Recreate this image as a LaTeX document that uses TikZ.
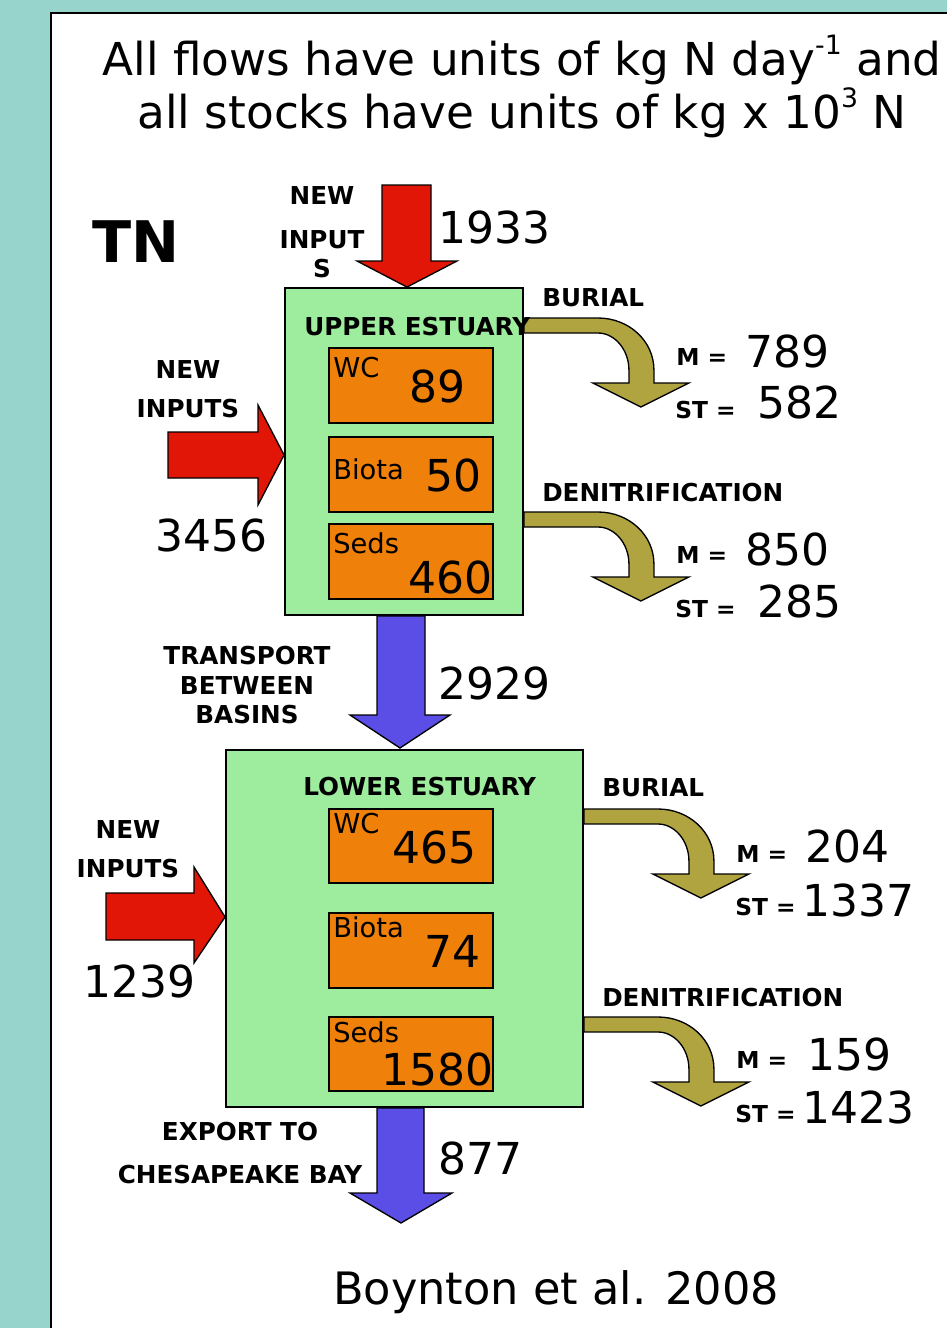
\documentclass[tikz,border=0pt]{standalone}
\usepackage{fontspec}
\setmainfont{DejaVu Sans}
\usetikzlibrary{fit,calc}
\definecolor{bgteal}{RGB}{150,212,204}
\definecolor{basingreen}{RGB}{158,236,158}
\definecolor{poolorange}{RGB}{239,128,10}
\definecolor{inred}{RGB}{225,22,6}
\definecolor{trblue}{RGB}{90,78,230}
\definecolor{outolive}{RGB}{175,164,64}
\newcommand\supr[1]{\raisebox{0.45em}{\fontsize{20}{20}\selectfont #1}}
\newcommand\bendarrow[1]{\draw[outflow, shift={#1}] (0,0) -- (74,0) .. controls (105,0) and (130,23) .. (130,52) -- (130,65) -- (165,65) -- (117,89) -- (69,65) -- (105,65) -- (105,52) .. controls (105,32) and (91,15) .. (74,15) -- (0,15) -- cycle;}
\begin{document}
\begin{tikzpicture}[x=0.75pt,y=-0.75pt,
  every node/.style={inner sep=0pt, text=black},
  lbl/.style={font=\fontsize{18.5}{20}\selectfont\bfseries, anchor=base},
  lblw/.style={lbl, anchor=base west},
  eq/.style={font=\fontsize{17.5}{19}\selectfont\bfseries, anchor=base west},
  num/.style={font=\fontsize{33}{36}\selectfont, anchor=base west},
  part/.style={font=\fontsize{20.5}{22}\selectfont, anchor=base west},
  basin/.style={draw=black, line width=1.4pt, fill=basingreen, inner sep=0pt},
  pool/.style={draw=black, line width=1.4pt, fill=poolorange, inner sep=0pt},
  inflow/.style={draw=black, line width=1pt, fill=inred, line join=miter},
  transflow/.style={draw=black, line width=1pt, fill=trblue, line join=miter},
  outflow/.style={draw=black, line width=1pt, fill=outolive, line join=miter}]
\useasboundingbox (0,0) rectangle (947,1328);
\fill[bgteal] (0,0) rectangle (947,1328);
\fill[white] (51,13) rectangle (947,1328);
\draw[line width=1.5pt] (51,1328) -- (51,13) -- (947,13);

% title
\node[font=\fontsize{34}{36}\selectfont, anchor=base] (t1) at (522,75) {All flows have units of kg N day\supr{-1} and};
\node[font=\fontsize{34}{36}\selectfont, anchor=base] (t2) at (522,128) {all stocks have units of kg x 10\supr{3} N};
\node[font=\fontsize{43}{46}\selectfont\bfseries, anchor=base west] (tn) at (92,262) {TN};

% basins
\node[basin, fit={(285,288) (523,615)}] (U) {};
\node[basin, fit={(226,750) (583,1107)}] (L) {};
\node[pool, fit={(329,348) (493,423)}] (Uwc) {};
\node[pool, fit={(329,437) (493,512)}] (Ubi) {};
\node[pool, fit={(329,524) (493,599)}] (Use) {};
\node[pool, fit={(329,809) (493,883)}] (Lwc) {};
\node[pool, fit={(329,913) (493,988)}] (Lbi) {};
\node[pool, fit={(329,1017) (493,1091)}] (Lse) {};

% inflows
\draw[inflow] (382,185) -- (431,185) -- (431,261) -- (457,261) -- (U.north -| 407,0) -- (357,261) -- (382,261) -- cycle;
\draw[inflow] (168,432) -- (258,432) -- (258,405) -- (U.west |- 0,455) -- (258,505) -- (258,478) -- (168,478) -- cycle;
\draw[inflow] (106,893) -- (194,893) -- (194,867) -- (L.west |- 0,917) -- (194,963) -- (194,940) -- (106,940) -- cycle;

% transport and export
\draw[transflow] (U.south -| 377,0) -- (U.south -| 425,0) -- (425,715) -- (450,715) -- (400,748) -- (350,715) -- (377,715) -- cycle;
\draw[transflow] (L.south -| 377,0) -- (L.south -| 424,0) -- (424,1193) -- (452,1193) -- (401,1223) -- (350,1193) -- (377,1193) -- cycle;

% burial / denitrification bent arrows
\bendarrow{(U.east |- 0,318)}
\bendarrow{(U.east |- 0,512)}
\bendarrow{(L.east |- 0,809)}
\bendarrow{(L.east |- 0,1017)}

% upper labels
\node[lbl] (ni1) at (322,204) {NEW};
\node[lbl] (ni2) at (322,248) {INPUT};
\node[lbl] (ni3) at (322,277) {S};
\node[num] (v1933) at (438,243) {1933};
\node[lblw] (ue) at (304,335) {UPPER ESTUARY};
\node[part] (uwcl) at (333,377) {WC};
\node[num] (uwcv) at (409,402) {89};
\node[part] (ubil) at (333,479) {Biota};
\node[num] (ubiv) at (425,491) {50};
\node[part] (usel) at (333,553) {Seds};
\node[num] (usev) at (408,593) {460};
\node[lbl] (uni1) at (188,378) {NEW};
\node[lbl] (uni2) at (188,417) {INPUTS};
\node[num] (v3456) at (155,551) {3456};
\node[lblw] (ub) at (542,306) {BURIAL};
\node[eq] (ubm) at (676,365) {M =};
\node[num] (ubmv) at (745,367) {789};
\node[eq] (ubs) at (675,418) {ST =};
\node[num] (ubsv) at (757,418) {582};
\node[lblw] (ud) at (542,501) {DENITRIFICATION};
\node[eq] (udm) at (676,563) {M =};
\node[num] (udmv) at (745,565) {850};
\node[eq] (uds) at (675,617) {ST =};
\node[num] (udsv) at (757,617) {285};

% transport labels
\node[lbl] (tb1) at (247,664) {TRANSPORT};
\node[lbl] (tb2) at (247,694) {BETWEEN};
\node[lbl] (tb3) at (247,723) {BASINS};
\node[num] (v2929) at (438,699) {2929};

% lower labels
\node[lblw] (le) at (303,795) {LOWER ESTUARY};
\node[part] (lwcl) at (333,833) {WC};
\node[num] (lwcv) at (392,863) {465};
\node[part] (lbil) at (333,937) {Biota};
\node[num] (lbiv) at (424,967) {74};
\node[part] (lsel) at (333,1042) {Seds};
\node[num] (lsev) at (381,1085) {1580};
\node[lbl] (lni1) at (128,838) {NEW};
\node[lbl] (lni2) at (128,877) {INPUTS};
\node[num] (v1239) at (83,997) {1239};
\node[lblw] (lb) at (602,796) {BURIAL};
\node[eq] (lbm) at (736,862) {M =};
\node[num] (lbmv) at (805,862) {204};
\node[eq] (lbs) at (735,915) {ST =};
\node[num] (lbsv) at (802,916) {1337};
\node[lblw] (ld) at (602,1006) {DENITRIFICATION};
\node[eq] (ldm) at (736,1068) {M =};
\node[num] (ldmv) at (807,1070) {159};
\node[eq] (lds) at (735,1122) {ST =};
\node[num] (ldsv) at (802,1123) {1423};

% export
\node[lbl] (ex1) at (240,1140) {EXPORT TO};
\node[lbl] (ex2) at (240,1183) {CHESAPEAKE BAY};
\node[num] (v877) at (438,1174) {877};
\node[font=\fontsize{33.5}{36}\selectfont, anchor=base] (src) at (556,1304) {Boynton et al. 2008};
\end{tikzpicture}
\end{document}
